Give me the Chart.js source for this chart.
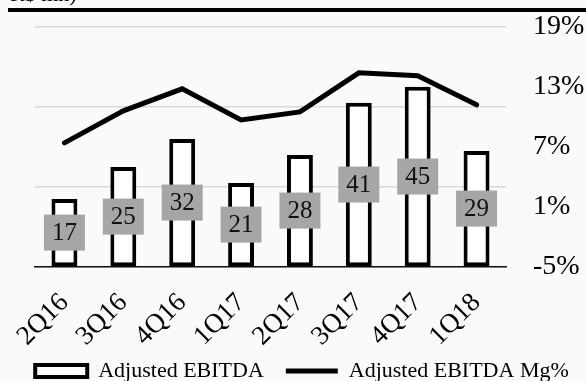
<!DOCTYPE html>
<html>
<head>
<meta charset="utf-8">
<script src="https://cdn.jsdelivr.net/npm/chart.js@4/dist/chart.umd.min.js"></script>
<style>
  html, body { margin: 0; padding: 0; background: #fafafa; overflow: hidden; }
  #wrap { position: relative; width: 586px; height: 381px; overflow: hidden; }
  #title { position: absolute; left: 10px; top: -17px; font: 22px "Liberation Serif", serif; line-height: 22px; color: #000; white-space: nowrap; z-index: 2; }
  #rule { position: absolute; left: 8px; top: 8px; width: 578px; height: 4px; background: #000; z-index: 2; }
  canvas { position: absolute; left: 0; top: -9px; }
</style>
</head>
<body>
<div id="wrap">
  <canvas id="c" width="604" height="411"></canvas>
  <div id="title">R$ mn)</div>
  <div id="rule"></div>
</div>
<script>
const categories = ["2Q16", "3Q16", "4Q16", "1Q17", "2Q17", "3Q17", "4Q17", "1Q18"];
const ebitda = [17, 25, 32, 21, 28, 41, 45, 29];
const ebitdaMargin = [7.4, 10.6, 12.8, 9.7, 10.5, 14.4, 14.1, 11.2];
const marginTicks = [-5, 1, 7, 13, 19];
const seriesNames = ["Adjusted EBITDA", "Adjusted EBITDA Mg%"];

const FONT = "Liberation Serif";

const barLabels = {
  id: 'barLabels',
  afterDatasetDraw(chart, args) {
    if (args.index !== 0) return;
    const ctx = chart.ctx;
    const meta = args.meta;
    ctx.save();
    ctx.font = '25px "' + FONT + '"';
    ctx.textAlign = 'center';
    ctx.textBaseline = 'middle';
    meta.data.forEach((bar, i) => {
      const txt = String(ebitda[i]);
      const cy = (bar.y + bar.base) / 2;
      const w = ctx.measureText(txt).width + 16;
      const h = 36;
      ctx.fillStyle = '#a6a6a6';
      ctx.fillRect(bar.x - w / 2, cy - h / 2, w, h);
      ctx.fillStyle = '#111';
      ctx.fillText(txt, bar.x, cy + 1);
    });
    ctx.restore();
  }
};

// move the legend row up so it sits just under the rotated category labels
const legendShift = {
  id: 'legendShift',
  afterLayout(chart) {
    const lg = chart.legend;
    if (!lg) return;
    const d = 347 - lg.top;
    lg.top += d;
    lg.bottom += d;
  }
};

new Chart(document.getElementById('c'), {
  type: 'bar',
  data: {
    labels: categories,
    datasets: [
      {
        type: 'bar',
        label: seriesNames[0],
        data: ebitda,
        yAxisID: 'y',
        backgroundColor: '#ffffff',
        borderColor: '#000000',
        borderWidth: 4,
        borderSkipped: false,
        barPercentage: 0.44,
        categoryPercentage: 1,
        order: 1,
        pointStyle: 'rect'
      },
      {
        type: 'line',
        label: seriesNames[1],
        data: ebitdaMargin,
        yAxisID: 'y1',
        borderColor: '#000000',
        backgroundColor: '#000000',
        borderWidth: 5,
        borderCapStyle: 'round',
        pointRadius: 0,
        pointHoverRadius: 0,
        tension: 0,
        fill: false,
        order: 0,
        pointStyle: 'line'
      }
    ]
  },
  options: {
    responsive: false,
    animation: false,
    devicePixelRatio: 1,
    layout: { padding: { top: 11, left: 0, right: 0, bottom: 0 } },
    plugins: {
      tooltip: { enabled: false },
      legend: {
        position: 'bottom',
        maxHeight: 50,
        labels: {
          usePointStyle: true,
          pointStyleWidth: 52,
          boxHeight: 12,
          padding: 22,
          color: '#000',
          font: { family: FONT, size: 22 },
          sort: (a, b) => a.datasetIndex - b.datasetIndex
        }
      }
    },
    scales: {
      x: {
        grid: { display: false },
        border: { display: true, color: '#111', width: 1.5 },
        ticks: {
          autoSkip: false,
          minRotation: 45,
          maxRotation: 45,
          padding: 12,
          color: '#000',
          font: { family: FONT, size: 27 }
        },
        afterFit(scale) { scale.height = 85; }
      },
      y: {
        position: 'left',
        min: 0,
        max: 60,
        ticks: { stepSize: 20, display: false },
        grid: { color: '#d9d9d9', lineWidth: 1.5, drawTicks: false },
        border: { display: false },
        afterFit(scale) { scale.width = 35; }
      },
      y1: {
        position: 'right',
        min: -5,
        max: 19,
        afterBuildTicks(scale) { scale.ticks = marginTicks.map(v => ({ value: v })); },
        ticks: {
          padding: 19,
          color: '#000',
          font: { family: FONT, size: 28 },
          callback: v => v + '%'
        },
        grid: { display: false },
        border: { display: false },
        afterFit(scale) { scale.width = 98; }
      }
    }
  },
  plugins: [barLabels, legendShift]
});
</script>
</body>
</html>
